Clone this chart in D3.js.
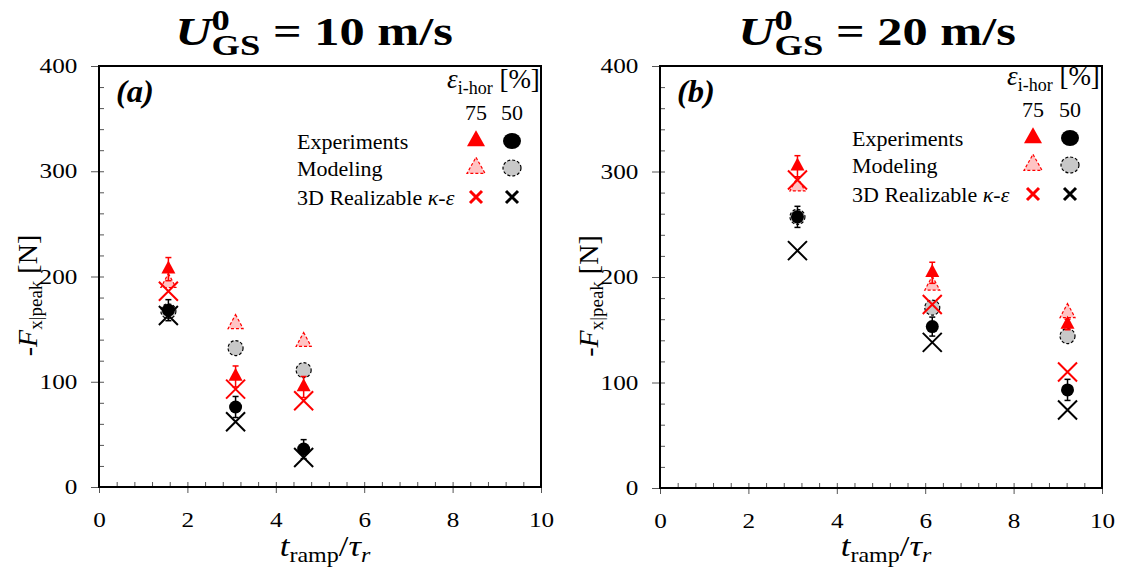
<!DOCTYPE html>
<html>
<head>
<meta charset="utf-8">
<script src="https://d3js.org/d3.v7.min.js"></script>
<style>
  body { margin: 0; background: #fff; }
  text { font-family: "Liberation Serif", "Times New Roman", serif; }
</style>
</head>
<body>
<div id="chart"></div>
<script>
// t_ramp / tau_r for each panel
const rampLeft = [1.57, 3.09, 4.63];
const rampRight = [3.11, 6.16, 9.22];

// U0_GS = 10 m/s
const exp75_10 = [207, 105, 95];
const exp75_10err = [11, 10, 10];
const exp50_10 = [168, 76, 36];
const exp50_10err = [10, 10, 9];
const mod75_10 = [194, 155, 138];
const mod50_10 = [167, 132, 111];
const rke75_10 = [186, 93, 82];
const rke50_10 = [163, 62, 28];

// U0_GS = 20 m/s
const exp75_20 = [305, 204, 155];
const exp75_20err = [10, 10, 5];
const exp50_20 = [257, 153, 93];
const exp50_20err = [10, 9, 10];
const mod75_20 = [286, 192, 166];
const mod50_20 = [257, 171, 144];
const rke75_20 = [292, 174, 110];
const rke50_20 = [225, 138, 74];

const xTicks = [0, 2, 4, 6, 8, 10];
const yTicks = [0, 100, 200, 300, 400];
const speeds = ["10", "20"];
const tags = ["a", "b"];
const legendRows = ["Experiments", "Modeling", "3D Realizable"];
const legendCols = ["75", "50"];

const RED = "#ff0000";
const S = 1.2; // horizontal stretch of the original figure

const svg = d3.select("#chart").append("svg")
  .attr("width", 1125)
  .attr("height", 570);

function triPath(w, h) {
  return `M0,${-h * 2 / 3}L${w / 2},${h / 3}L${-w / 2},${h / 3}Z`;
}

function drawPanel(p) {
  const x = d3.scaleLinear().domain([0, 10]).range([p.left, p.right]);
  const y = d3.scaleLinear().domain([0, 400]).range([p.bottom, p.top]);
  const g = svg.append("g");

  // minor ticks inside
  g.append("g")
    .attr("transform", `translate(0,${p.bottom})`)
    .call(d3.axisTop(x).tickValues(d3.range(26).map(i => i * 0.4)).tickSize(5).tickFormat(""))
    .call(a => a.select(".domain").remove())
    .selectAll("line").attr("stroke", "#555");
  g.append("g")
    .attr("transform", `translate(${p.left},0)`)
    .call(d3.axisRight(y).tickValues(d3.range(21).map(i => i * 20)).tickSize(5).tickFormat(""))
    .call(a => a.select(".domain").remove())
    .selectAll("line").attr("stroke", "#555");

  // major ticks + labels
  const xa = g.append("g")
    .attr("transform", `translate(0,${p.bottom})`)
    .call(d3.axisBottom(x).tickValues(xTicks).tickSize(6).tickPadding(19).tickFormat(d3.format("d")));
  xa.select(".domain").remove();
  xa.selectAll("line").attr("stroke", "#555");
  xa.selectAll("text")
    .attr("font-family", "Liberation Serif")
    .attr("font-size", 21)
    .attr("fill", "#000")
    .attr("transform", `scale(${S},1)`);

  const ya = g.append("g")
    .attr("transform", `translate(${p.left},0)`)
    .call(d3.axisLeft(y).tickValues(yTicks).tickSize(8).tickPadding(10).tickFormat(d3.format("d")));
  ya.select(".domain").remove();
  ya.selectAll("line").attr("stroke", "#555");
  ya.selectAll("text")
    .attr("font-family", "Liberation Serif")
    .attr("font-size", 21)
    .attr("fill", "#000")
    .attr("transform", `scale(${S},1)`);

  // frame
  g.append("rect")
    .attr("x", p.left).attr("y", p.top)
    .attr("width", p.right - p.left).attr("height", p.bottom - p.top)
    .attr("fill", "none").attr("stroke", "#000").attr("stroke-width", 2);

  // panel tag
  g.append("text")
    .attr("transform", `translate(${p.left + 17},${p.top + 36}) scale(1.05,1)`)
    .attr("font-size", 31).attr("font-weight", "bold").attr("font-style", "italic")
    .text(`(${p.tag})`);

  // title
  const t = svg.append("text")
    .attr("transform", `translate(${p.titleX},45) scale(1.26,1)`)
    .attr("text-anchor", "middle")
    .attr("font-weight", "bold")
    .attr("font-size", 40);
  t.append("tspan").attr("font-style", "italic").text("U");
  t.append("tspan").attr("font-size", 29).attr("dy", -15).text("0");
  t.append("tspan").attr("font-size", 29).attr("dx", -14.5).attr("dy", 25).text("GS");
  t.append("tspan").attr("dy", -10).text("\u00a0=\u00a0" + p.speed + "\u00a0m/s");

  // axis titles
  const xt = svg.append("text")
    .attr("transform", `translate(${(p.left + p.right) / 2 + 5},556) scale(${S},1)`)
    .attr("text-anchor", "middle")
    .attr("font-size", 29);
  xt.append("tspan").attr("font-style", "italic").text("t");
  xt.append("tspan").attr("font-size", 20).attr("dy", 6).text("ramp");
  xt.append("tspan").attr("dy", -6).text("/");
  xt.append("tspan").attr("font-style", "italic").text("τ");
  xt.append("tspan").attr("font-style", "italic").attr("font-size", 20).attr("dy", 6).text("r");

  const yt = svg.append("text")
    .attr("transform", `translate(${p.left - 62},${(p.top + p.bottom) / 2 + 19}) rotate(-90)`)
    .attr("text-anchor", "middle")
    .attr("font-size", 28);
  yt.append("tspan").text("-");
  yt.append("tspan").attr("font-style", "italic").text("F");
  yt.append("tspan").attr("font-size", 19).attr("dy", 5).text("x|peak");
  yt.append("tspan").attr("dy", -5).text("\u00a0[N]");

  // data
  const pts = (vals) => vals.map((v, i) => ({ x: p.ramp[i], v }));
  const mark = g.append("g");

  // modelling (dashed)
  mark.selectAll(".m75").data(pts(p.mod75)).join("path")
    .attr("transform", d => `translate(${x(d.x)},${y(d.v)})`)
    .attr("d", triPath(15, 14))
    .attr("fill", "#ffc4c4").attr("stroke", RED).attr("stroke-width", 1.2).attr("stroke-dasharray", "3,2");
  mark.selectAll(".m50").data(pts(p.mod50)).join("ellipse")
    .attr("cx", d => x(d.x)).attr("cy", d => y(d.v))
    .attr("rx", 7.5).attr("ry", 7.5)
    .attr("fill", "#c8c8c8").attr("stroke", "#000").attr("stroke-width", 1.2).attr("stroke-dasharray", "3,2");

  // experiments with error bars
  const errBar = (vals, errs, color) => {
    const d = vals.map((v, i) => ({ x: p.ramp[i], v, e: errs[i] }));
    const eb = mark.append("g").attr("stroke", color).attr("stroke-width", 1.5);
    eb.selectAll(".v").data(d).join("line")
      .attr("x1", d => x(d.x)).attr("x2", d => x(d.x))
      .attr("y1", d => y(d.v - d.e)).attr("y2", d => y(d.v + d.e));
    eb.selectAll(".t").data(d).join("line")
      .attr("x1", d => x(d.x) - 3).attr("x2", d => x(d.x) + 3)
      .attr("y1", d => y(d.v + d.e)).attr("y2", d => y(d.v + d.e));
    eb.selectAll(".b").data(d).join("line")
      .attr("x1", d => x(d.x) - 3).attr("x2", d => x(d.x) + 3)
      .attr("y1", d => y(d.v - d.e)).attr("y2", d => y(d.v - d.e));
  };
  errBar(p.exp75, p.exp75err, RED);
  errBar(p.exp50, p.exp50err, "#000");
  mark.append("g").selectAll("path").data(pts(p.exp75)).join("path")
    .attr("transform", d => `translate(${x(d.x)},${y(d.v)})`)
    .attr("d", triPath(14, 13))
    .attr("fill", RED);
  mark.append("g").selectAll("ellipse").data(pts(p.exp50)).join("ellipse")
    .attr("cx", d => x(d.x)).attr("cy", d => y(d.v))
    .attr("rx", 6.5).attr("ry", 6.5)
    .attr("fill", "#000");

  // 3D realizable k-e crosses
  const cross = (vals, color) => {
    mark.append("g").selectAll("path").data(pts(vals)).join("path")
      .attr("transform", d => `translate(${x(d.x)},${y(d.v)})`)
      .attr("d", "M-9.5,-9.5L9.5,9.5M-9.5,9.5L9.5,-9.5")
      .attr("fill", "none").attr("stroke", color).attr("stroke-width", 2);
  };
  cross(p.rke75, RED);
  cross(p.rke50, "#000");

  // legend
  const L = p.legend;
  const lg = svg.append("g");
  const hdr = lg.append("text")
    .attr("x", L.eps).attr("y", L.y + 88)
    .attr("font-size", 27);
  hdr.append("tspan").attr("font-style", "italic").text("ε");
  hdr.append("tspan").attr("font-size", 18).attr("dy", 6).text("i-hor");
  hdr.append("tspan").attr("dy", -6).text("\u00a0[%]");

  legendCols.forEach((c, i) => {
    lg.append("text")
      .attr("x", i === 0 ? L.m75 : L.m50).attr("y", L.y + 120)
      .attr("text-anchor", "middle")
      .attr("font-size", 22)
      .text(c);
  });

  const rowY = [141, 168, 197].map(v => v + L.y);
  legendRows.forEach((r, i) => {
    const tx = lg.append("text")
      .attr("x", L.text).attr("y", rowY[i] + 8)
      .attr("font-size", 22)
      .text(r);
    if (i === 2) {
      tx.append("tspan").text("\u00a0");
      tx.append("tspan").attr("font-style", "italic").text("κ");
      tx.append("tspan").text("-");
      tx.append("tspan").attr("font-style", "italic").text("ε");
    }
  });
  lg.append("path").attr("transform", `translate(${L.m75},${rowY[0]})`)
    .attr("d", triPath(18, 16)).attr("fill", RED);
  lg.append("ellipse").attr("cx", L.m50).attr("cy", rowY[0]).attr("rx", 9).attr("ry", 8).attr("fill", "#000");
  lg.append("path").attr("transform", `translate(${L.m75},${rowY[1]})`)
    .attr("d", triPath(18, 16))
    .attr("fill", "#ffc4c4").attr("stroke", RED).attr("stroke-width", 1.2).attr("stroke-dasharray", "3,2");
  lg.append("ellipse").attr("cx", L.m50).attr("cy", rowY[1]).attr("rx", 9).attr("ry", 8)
    .attr("fill", "#c8c8c8").attr("stroke", "#000").attr("stroke-width", 1.2).attr("stroke-dasharray", "3,2");
  lg.append("path").attr("transform", `translate(${L.m75},${rowY[2]})`)
    .attr("d", "M-6,-6L6,6M-6,6L6,-6").attr("stroke", RED).attr("stroke-width", 3);
  lg.append("path").attr("transform", `translate(${L.m50},${rowY[2]})`)
    .attr("d", "M-6,-6L6,6M-6,6L6,-6").attr("stroke", "#000").attr("stroke-width", 3);
}

drawPanel({
  left: 99, right: 541, top: 66, bottom: 487,
  speed: speeds[0], tag: tags[0], titleX: 314, ramp: rampLeft,
  exp75: exp75_10, exp75err: exp75_10err, exp50: exp50_10, exp50err: exp50_10err,
  mod75: mod75_10, mod50: mod50_10, rke75: rke75_10, rke50: rke50_10,
  legend: { text: 297, eps: 447, m75: 476, m50: 512, y: 0 }
});

drawPanel({
  left: 660, right: 1102, top: 66, bottom: 488,
  speed: speeds[1], tag: tags[1], titleX: 877, ramp: rampRight,
  exp75: exp75_20, exp75err: exp75_20err, exp50: exp50_20, exp50err: exp50_20err,
  mod75: mod75_20, mod50: mod50_20, rke75: rke75_20, rke50: rke50_20,
  legend: { text: 852, eps: 1007, m75: 1033, m50: 1070, y: -3 }
});
</script>
</body>
</html>
